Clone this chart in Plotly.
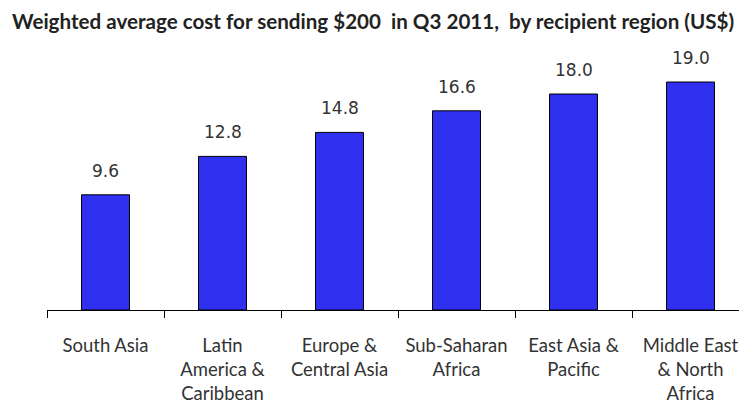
import plotly.graph_objects as go

categories = ["South Asia", "Latin<br>America &<br>Caribbean", "Europe &<br>Central Asia",
              "Sub-Saharan<br>Africa", "East Asia &<br>Pacific", "Middle East<br>& North<br>Africa"]
values = [9.6, 12.8, 14.8, 16.6, 18.0, 19.0]
value_labels = ["9.6", "12.8", "14.8", "16.6", "18.0", "19.0"]
title_text = "Weighted average cost for sending $200  in Q3 2011,  by recipient region (US$)"

# page has an 8px body margin, so figure coordinates are offset by (8, 8)
OFF = 8
W, H = 747, 409
plot_left = 47 - OFF
plot_bottom = 310 - OFF
plot_top = plot_bottom - 12 * 22

fig = go.Figure()
fig.add_trace(go.Bar(
    x=categories, y=values,
    marker=dict(color="rgb(48,48,240)", line=dict(color="black", width=1)),
    hoverinfo="skip",
))

for c, v, t in zip(categories, values, value_labels):
    fig.add_annotation(x=c, y=v, text=t, showarrow=False, yanchor="bottom", yshift=12,
                       font=dict(family="DejaVu Sans", size=17, color="#333333"))

fig.update_layout(
    width=W, height=H,
    margin=dict(l=plot_left, r=0, t=plot_top, b=H - plot_bottom),
    paper_bgcolor="white", plot_bgcolor="white",
    bargap=0.59,
    showlegend=False,
    title=dict(text="<b>" + title_text + "</b>", x=(12 - OFF) / W, xanchor="left",
               y=1 - (22 - OFF) / H, yanchor="middle", yref="container",
               font=dict(family="Lato", size=20.6, color="#222222")),
)
fig.update_xaxes(
    type="category", range=[-0.5, -0.5 + (W - plot_left) / 117],
    showline=True, linecolor="black", linewidth=1,
    ticks="outside", tickson="boundaries", ticklen=7, tickcolor="black",
    tickfont=dict(family="Lato", size=18.5, color="#333333"),
    ticklabelstandoff=19,
    showgrid=False, automargin=False,
)
fig.update_yaxes(range=[0, 22], visible=False, automargin=False)

fig.write_html("out.html")
